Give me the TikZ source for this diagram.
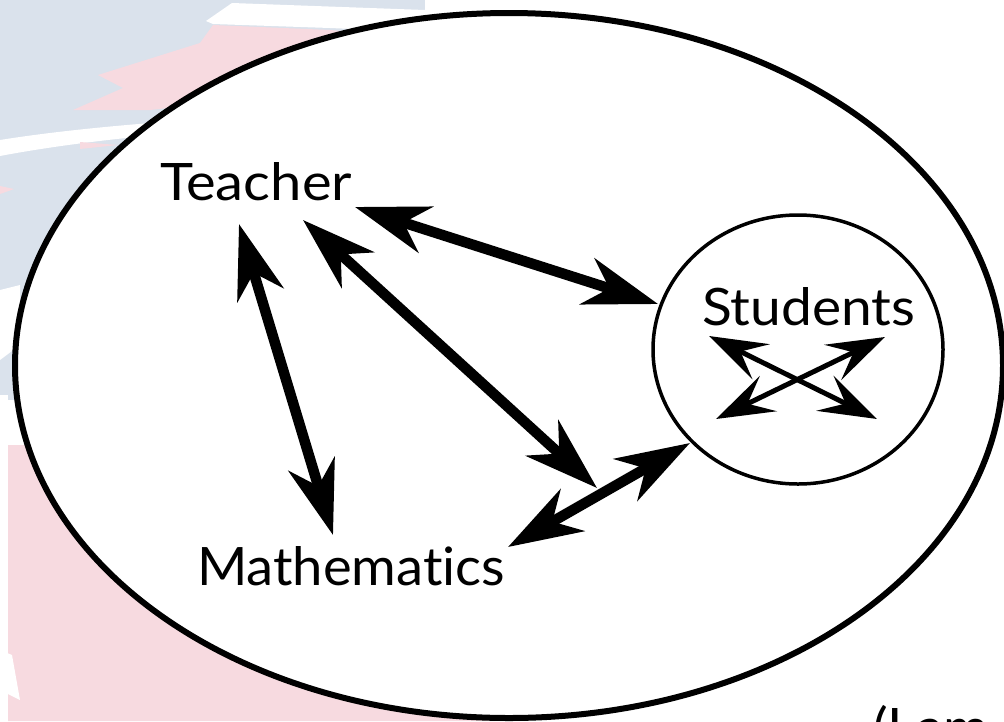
\documentclass[tikz,border=0pt]{standalone}
\usepackage{fontspec}
\setmainfont{Lato}[Ligatures={NoCommon}]
\usetikzlibrary{arrows.meta,shapes.geometric}
\definecolor{bgblue}{RGB}{218,226,236}
\definecolor{bgpink}{RGB}{247,218,224}
\tikzset{
  bigarrow/.style={line width=10.5pt, {Stealth[length=74pt,width=48pt,inset=23pt]}-{Stealth[length=74pt,width=48pt,inset=23pt]}},
  smallarrow/.style={line width=5pt, {Stealth[length=58pt,width=39pt,inset=23pt]}-{Stealth[length=58pt,width=39pt,inset=23pt]}},
  label/.style={inner sep=0pt, outer sep=0pt, anchor=base west},
}
\begin{document}
\begin{tikzpicture}[x=1pt,y=-1pt]
\useasboundingbox (0,0) rectangle (1004,721);
\clip (0,0) rectangle (1004,721);
% background watermark
\fill[bgblue] (0,0) -- (425,0) -- (425,400) -- (0,400) -- cycle;
\fill[white] (206,21) -- (232,3) -- (425,10) -- (425,32) -- (330,28) -- (213,24) -- cycle;
\fill[bgpink] (73,110) -- (123,88) -- (98,75) -- (200,43) -- (213,25) -- (330,30) -- (425,38) -- (425,80) -- (150,110) -- cycle;
\fill[white] (0,140) .. controls (100,124) and (250,114) .. (425,110) -- (425,120) .. controls (250,124) and (100,137) .. (0,156) -- cycle;
\fill[bgpink] (80,142) -- (118,145) -- (80,149) -- cycle;
\fill[bgpink] (0,186) -- (14,189) -- (0,194) -- cycle;
\fill[white] (0,290) -- (20,285) -- (20,345) -- (0,360) -- cycle;
\fill[white] (0,395) -- (8,395) -- (8,721) -- (0,721) -- cycle;
\fill[bgpink] (8,445) -- (200,445) -- (520,721) -- (8,721) -- cycle;
\fill[white] (0,650) -- (12,655) -- (20,700) -- (0,690) -- cycle;
% outer ellipse
\node[draw, fill=white, ellipse, line width=6pt, minimum width=988pt, minimum height=705pt, inner sep=0pt] (world) at (509,365.5) {};
% students circle
\node[draw, ellipse, line width=3.5pt, minimum width=290pt, minimum height=269pt, inner sep=0pt] (studcircle) at (798,349.5) {};
% labels
\node[label] (teacher) at (160,200) {\resizebox{192pt}{38pt}{Teacher}};
\node[label] (students) at (702,325) {\resizebox{213pt}{38pt}{Students}};
\node[label] (math) at (197,585) {\resizebox{308pt}{39pt}{Mathematics}};
\node[label] (source) at (873,746) {\scalebox{1.06}[1.02]{\fontsize{52pt}{60pt}\selectfont (Lam}};
% arrow endpoints
\coordinate (tm1) at (239,224); \coordinate (tm2) at (333,535);
\coordinate (ts1) at (355,207); \coordinate (ts2) at (658,304);
\coordinate (td1) at (303,220); \coordinate (td2) at (597,488);
\coordinate (ms1) at (508,547); \coordinate (ms2) at (690,443);
\coordinate (ia1) at (709,336); \coordinate (ia2) at (877,419);
\coordinate (ib1) at (885,337); \coordinate (ib2) at (716,419);
% arrows
\draw[bigarrow] (tm1) -- (tm2);
\draw[bigarrow] (ts1) -- (ts2);
\draw[bigarrow] (td1) -- (td2);
\draw[bigarrow] (ms1) -- (ms2);
\draw[smallarrow] (ia1) -- (ia2);
\draw[smallarrow] (ib1) -- (ib2);
\end{tikzpicture}
\end{document}
